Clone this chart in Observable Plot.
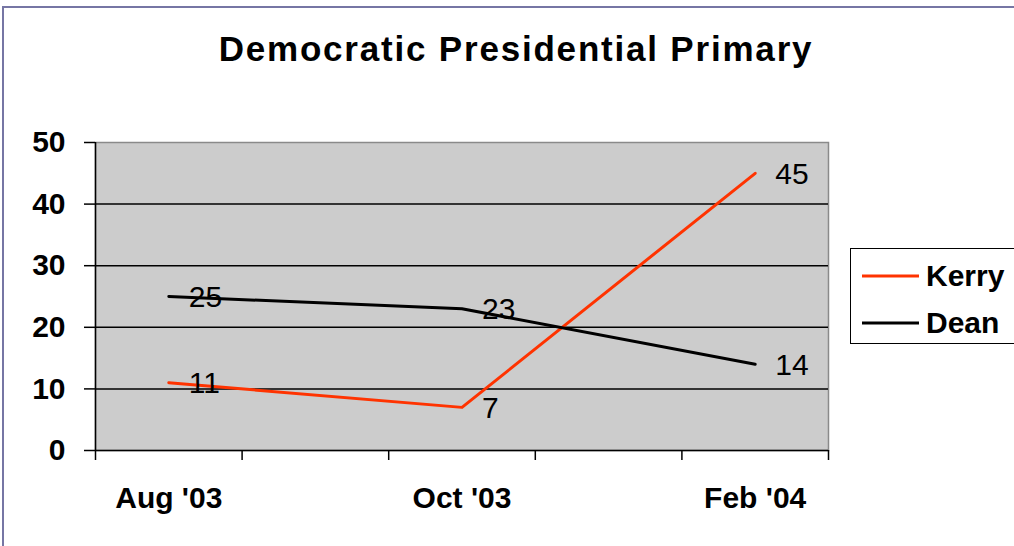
<!DOCTYPE html>
<html>
<head>
<meta charset="utf-8">
<script src="https://cdn.jsdelivr.net/npm/d3@7"></script>
<script src="https://cdn.jsdelivr.net/npm/@observablehq/plot@0.6"></script>
<style>
  html, body { margin: 0; padding: 0; background: #fff; overflow: hidden; }
  #wrap { position: relative; width: 1014px; height: 546px; overflow: hidden; font-family: "Liberation Sans", Arial, sans-serif; }
  #border { position: absolute; left: 2px; top: 6px; width: 1100px; height: 600px; border-left: 2px solid #7676a4; border-top: 2px solid #7676a4; box-sizing: border-box; }
  #title { position: absolute; left: 0; top: 27px; width: 1032px; text-align: center; font-weight: bold; font-size: 35px; letter-spacing: 1.8px; line-height: 44px; color: #000; }
  #chart { position: absolute; left: 0; top: 100px; }
  #legend { position: absolute; left: 850px; top: 248px; width: 220px; height: 96px; border: 1.5px solid #000; box-sizing: border-box; background: #fff; }
  .item { position: absolute; left: 11px; height: 40px; display: flex; align-items: center; font-weight: bold; font-size: 30px; }
  .item svg { margin-right: 7px; }
</style>
</head>
<body>
<div id="wrap">
  <div id="border"></div>
  <div id="title">Democratic Presidential Primary</div>
  <div id="chart"></div>
  <div id="legend"></div>
</div>
<script>
// Data
const categories = ["Aug '03", "Oct '03", "Feb '04"];
const kerry = [11, 7, 45];
const dean = [25, 23, 14];
const seriesNames = ["Kerry", "Dean"];
const seriesColors = ["#ff3300", "#000000"];
const yTicks = [0, 10, 20, 30, 40, 50];

const seriesValues = [kerry, dean];
const rows = [];
seriesNames.forEach((s, si) => {
  seriesValues[si].forEach((v, i) => rows.push({series: s, i, value: v, color: seriesColors[si]}));
});

const xDomain = [-0.25, categories.length - 0.75];
const boundaryTicks = d3.range(0, categories.length * 2).map(k => k * 0.5 - 0.25);

const plot = Plot.plot({
  width: 1014,
  height: 446,
  marginLeft: 95,
  marginRight: 186,
  marginTop: 42,
  marginBottom: 96,
  style: {fontFamily: "'Liberation Sans', Arial, sans-serif", background: "transparent", overflow: "visible"},
  x: {domain: xDomain, type: "linear"},
  y: {domain: [0, 50]},
  marks: [
    Plot.frame({fill: "#cccccc", stroke: "#8a8a8a", strokeWidth: 1.5}),
    Plot.ruleY(yTicks.filter(d => d > 0 && d < 50), {stroke: "#000", strokeWidth: 1.5}),
    Plot.ruleY([0], {stroke: "#000", strokeWidth: 1.5}),
    Plot.ruleX([xDomain[0]], {stroke: "#000", strokeWidth: 1.5}),
    Plot.axisY({ticks: yTicks, tickSize: 11, tickPadding: 19, fontSize: 30, fontWeight: "bold", stroke: "#000", strokeWidth: 1.5, label: null, color: "#000"}),
    Plot.axisX({ticks: boundaryTicks, tickSize: 10, tickFormat: () => "", stroke: "#000", strokeWidth: 1.5, label: null}),
    Plot.axisX({ticks: d3.range(categories.length), tickSize: 0, tickPadding: 36, tickFormat: i => categories[i], fontSize: 30, fontWeight: "bold", label: null, color: "#000"}),
    Plot.line(rows, {x: "i", y: "value", z: "series", stroke: "color", strokeWidth: 3}),
    Plot.text(rows, {x: "i", y: "value", text: d => String(d.value), textAnchor: "start", dx: 20, dy: 1, fontSize: 30, fill: "#000"})
  ]
});
document.getElementById("chart").appendChild(plot);

// Legend
const legend = document.getElementById("legend");
seriesNames.forEach((s, si) => {
  const item = document.createElement("div");
  item.className = "item";
  item.style.top = (7 + si * 47) + "px";
  item.innerHTML = `<svg width="57" height="6"><line x1="0" y1="3" x2="57" y2="3" stroke="${seriesColors[si]}" stroke-width="3"/></svg><span>${s}</span>`;
  legend.appendChild(item);
});
</script>
</body>
</html>
